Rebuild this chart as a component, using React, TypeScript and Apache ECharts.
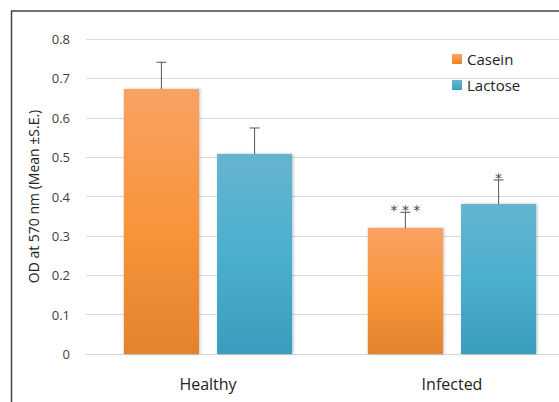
import React, { useEffect, useRef } from "react";
import * as echarts from "echarts";

const categories = ["Healthy", "Infected"];
const caseinValues = [0.673, 0.32];
const lactoseValues = [0.508, 0.381];
const caseinSE = [0.068, 0.04];
const lactoseSE = [0.066, 0.061];
const caseinSig = ["", "* * *"];
const lactoseSig = ["", "*"];
const yTicks = { min: 0, max: 0.8, interval: 0.1 };

const CAT_GAP = 0.31;
const BAR_GAP = 0.24;

function errorSeries(name: string, values: number[], se: number[], sig: string[], side: number) {
  return {
    type: "custom",
    name: name + "-err",
    z: 5,
    silent: true,
    data: values.map((v, i) => [i, v, v + se[i]]),
    renderItem: (params: any, api: any) => {
      const band = api.size([1, 0])[0];
      const barW = (band * (1 - CAT_GAP)) / (2 + BAR_GAP);
      const offset = ((barW * (1 + BAR_GAP)) / 2) * side;
      const base = api.coord([api.value(0), api.value(1)]);
      const top = api.coord([api.value(0), api.value(2)]);
      const x = base[0] + offset;
      const label = sig[params.dataIndex];
      const style = { stroke: "#555555", lineWidth: 1 };
      const children: any[] = [
        { type: "line", shape: { x1: x, y1: base[1], x2: x, y2: top[1] }, style },
        { type: "line", shape: { x1: x - 5, y1: top[1], x2: x + 5, y2: top[1] }, style },
      ];
      if (label) {
        children.push({
          type: "text",
          z2: 10,
          style: {
            text: label,
            x: x,
            y: top[1] - 2,
            align: "center",
            verticalAlign: "middle",
            fill: "#444444",
            stroke: "none",
            lineWidth: 0,
            fontSize: 14,
            fontFamily: "'DejaVu Sans', sans-serif",
          },
        });
      }
      return { type: "group", children };
    },
  };
}

export default function App() {
  const ref = useRef<HTMLDivElement>(null);
  useEffect(() => {
    if (!ref.current) return;
    const chart = echarts.init(ref.current, null, { renderer: "svg" });
    const barShadow = {
      shadowBlur: 3,
      shadowColor: "rgba(0,0,0,0.25)",
      shadowOffsetX: 1,
      shadowOffsetY: 0,
    };
    chart.setOption({
      animation: false,
      backgroundColor: "#ffffff",
      textStyle: { fontFamily: "'Open Sans', 'DejaVu Sans', sans-serif" },
      grid: { left: 86, top: 39, width: 488, height: 315, containLabel: false },
      legend: {
        orient: "vertical",
        left: 447,
        top: 46,
        itemWidth: 10,
        itemHeight: 10,
        itemGap: 10,
        icon: "rect",
        data: ["Casein", "Lactose"],
        textStyle: { fontSize: 15, lineHeight: 16, color: "#222222", fontFamily: "'Open Sans', sans-serif" },
      },
      xAxis: {
        type: "category",
        data: categories,
        axisLine: { show: true, lineStyle: { color: "#d4d4d4", width: 1 } },
        axisTick: { show: false },
        axisLabel: { fontSize: 16, color: "#222222", margin: 22, fontFamily: "'Open Sans', sans-serif" },
      },
      yAxis: {
        type: "value",
        min: yTicks.min,
        max: yTicks.max,
        interval: yTicks.interval,
        name: "OD at 570 nm (Mean ±S.E.)",
        nameLocation: "middle",
        nameGap: 45,
        nameTextStyle: { fontSize: 14, color: "#222222", fontFamily: "'Open Sans', sans-serif" },
        axisLine: { show: false },
        axisTick: { show: false },
        axisLabel: { fontSize: 13, color: "#404040", margin: 16, fontFamily: "'Open Sans', sans-serif" },
        splitLine: { lineStyle: { color: "#d9d9d9", width: 1 } },
      },
      series: [
        {
          type: "bar",
          name: "Casein",
          data: caseinValues,
          barCategoryGap: CAT_GAP * 100 + "%",
          barGap: BAR_GAP * 100 + "%",
          itemStyle: {
            color: new echarts.graphic.LinearGradient(0, 0, 0, 1, [
              { offset: 0, color: "#f9a263" },
              { offset: 0.5, color: "#f8953c" },
              { offset: 1, color: "#e4832c" },
            ]),
            ...barShadow,
          },
        },
        {
          type: "bar",
          name: "Lactose",
          data: lactoseValues,
          barCategoryGap: CAT_GAP * 100 + "%",
          barGap: BAR_GAP * 100 + "%",
          itemStyle: {
            color: new echarts.graphic.LinearGradient(0, 0, 0, 1, [
              { offset: 0, color: "#65b5cf" },
              { offset: 0.5, color: "#4bafce" },
              { offset: 1, color: "#3a9dbd" },
            ]),
            ...barShadow,
          },
        },
        errorSeries("Casein", caseinValues, caseinSE, caseinSig, -1),
        errorSeries("Lactose", lactoseValues, lactoseSE, lactoseSig, 1),
      ],
      graphic: [
        {
          type: "rect",
          shape: { x: 11.5, y: 11, width: 700, height: 600 },
          style: { fill: "none", stroke: "#444444", lineWidth: 1.5 },
          z: 10,
          silent: true,
        },
      ],
    });
    return () => chart.dispose();
  }, []);
  return (
    <div style={{ position: "fixed", left: 0, top: 0, width: 559, height: 402, overflow: "hidden" }}>
      <div ref={ref} style={{ width: 600, height: 402 }} />
    </div>
  );
}
